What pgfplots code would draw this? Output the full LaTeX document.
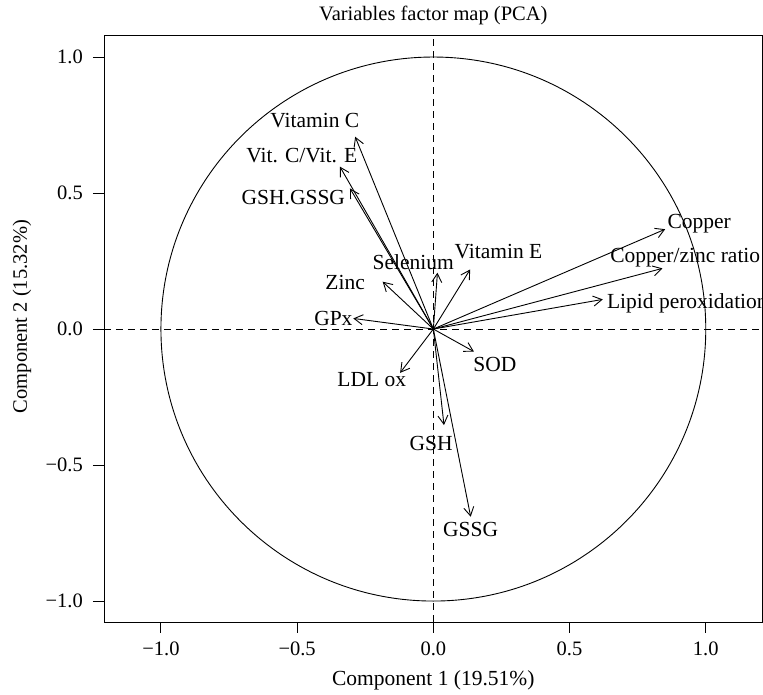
\documentclass[border=0pt]{standalone}
\usepackage{fontspec}
\setmainfont{Liberation Serif}
\usepackage{pgfplots}
\usepackage{pgfplotstable}
\pgfplotsset{compat=1.18}
\usetikzlibrary{arrows.meta}

% loadings on the first two components
\pgfplotstableread[col sep=comma,row sep=\\]{
x,y,u,v\\
0,0,-0.287,0.707\\
0,0,-0.343,0.597\\
0,0,-0.306,0.517\\
0,0,0.015,0.207\\
0,0,-0.186,0.174\\
0,0,-0.294,0.039\\
0,0,0.135,0.219\\
0,0,0.851,0.367\\
0,0,0.841,0.223\\
0,0,0.622,0.109\\
0,0,0.149,-0.083\\
0,0,-0.122,-0.161\\
0,0,0.039,-0.353\\
0,0,0.137,-0.690\\
}\loadings

\pgfplotstableread[col sep=comma,row sep=\\]{
x,y,label\\
-0.435,0.765,Vitamin C\\
-0.483,0.636,Vit. C/Vit. E\\
-0.514,0.484,GSH.GSSG\\
-0.074,0.245,Selenium\\
-0.324,0.170,Zinc\\
-0.367,0.039,GPx\\
0.239,0.284,Vitamin E\\
0.226,-0.132,SOD\\
-0.226,-0.1875,LDL ox\\
-0.008,-0.420,GSH\\
0.137,-0.736,GSSG\\
}\centerlabels

\pgfplotstableread[col sep=comma,row sep=\\]{
x,y,label\\
0.859,0.389,Copper\\
0.649,0.264,Copper/zinc ratio\\
0.637,0.094,Lipid peroxidation\\
}\westlabels

\begin{document}
\begin{tikzpicture}
\begin{axis}[
  scale only axis,
  width=658.7pt, height=587pt,
  xmin=-1.209, xmax=1.209,
  ymin=-1.077, ymax=1.081,
  axis line style={line width=0.9pt},
  xtick={-1,-0.5,0,0.5,1},
  ytick={-1,-0.5,0,0.5,1},
  xticklabels={−1.0,−0.5,0.0,0.5,1.0},
  yticklabels={−1.0,−0.5,0.0,0.5,1.0},
  xtick pos=left, ytick pos=left,
  tick align=outside,
  major tick length=11pt,
  tick style={line width=0.9pt, black},
  ticklabel style={font=\fontsize{20.5}{24}\selectfont, inner sep=0pt},
  xticklabel style={anchor=center, yshift=-16pt},
  yticklabel style={anchor=east, xshift=-10pt},
  title={Variables factor map (PCA)},
  title style={at={(axis description cs:0.5,1)}, anchor=center, yshift=14pt, font=\fontsize{20.5}{24}\selectfont},
  xlabel={Component 1 (19.51\%)},
  xlabel style={at={(axis description cs:0.5,0)}, anchor=center, yshift=-58pt, font=\fontsize{21.5}{24}\selectfont},
  ylabel={Component 2 (15.32\%)},
  ylabel style={at={(axis description cs:0,0.5)}, anchor=center, xshift=12pt, yshift=82pt, font=\fontsize{20.5}{24}\selectfont},
  clip=true,
]
\draw[line width=0.9pt] (axis cs:0,0) ellipse [x radius=1, y radius=1];
\draw[line width=0.9pt, dash pattern=on 7pt off 5pt] (axis cs:0,-1.077) -- (axis cs:0,1.081);
\draw[line width=0.9pt, dash pattern=on 7pt off 5pt] (axis cs:-1.209,0) -- (axis cs:1.209,0);
\addplot[line width=0.9pt, -{Straight Barb[angle=60:10pt]},
  quiver={u=\thisrow{u}, v=\thisrow{v}}] table[x=x,y=y]{\loadings};
\addplot[only marks, mark=none, nodes near coords, point meta=explicit symbolic,
  nodes near coords style={anchor=center, inner sep=0pt, font=\fontsize{21.5}{24}\selectfont}]
  table[x=x,y=y,meta=label]{\centerlabels};
\addplot[only marks, mark=none, nodes near coords, point meta=explicit symbolic,
  nodes near coords style={anchor=west, inner sep=0pt, font=\fontsize{21.5}{24}\selectfont}]
  table[x=x,y=y,meta=label]{\westlabels};
\end{axis}
\pgfresetboundingbox
\path ([shift={(-104pt,-73pt)}]current axis.south west) rectangle ([shift={(659pt,622pt)}]current axis.south west);
\end{tikzpicture}
\end{document}
